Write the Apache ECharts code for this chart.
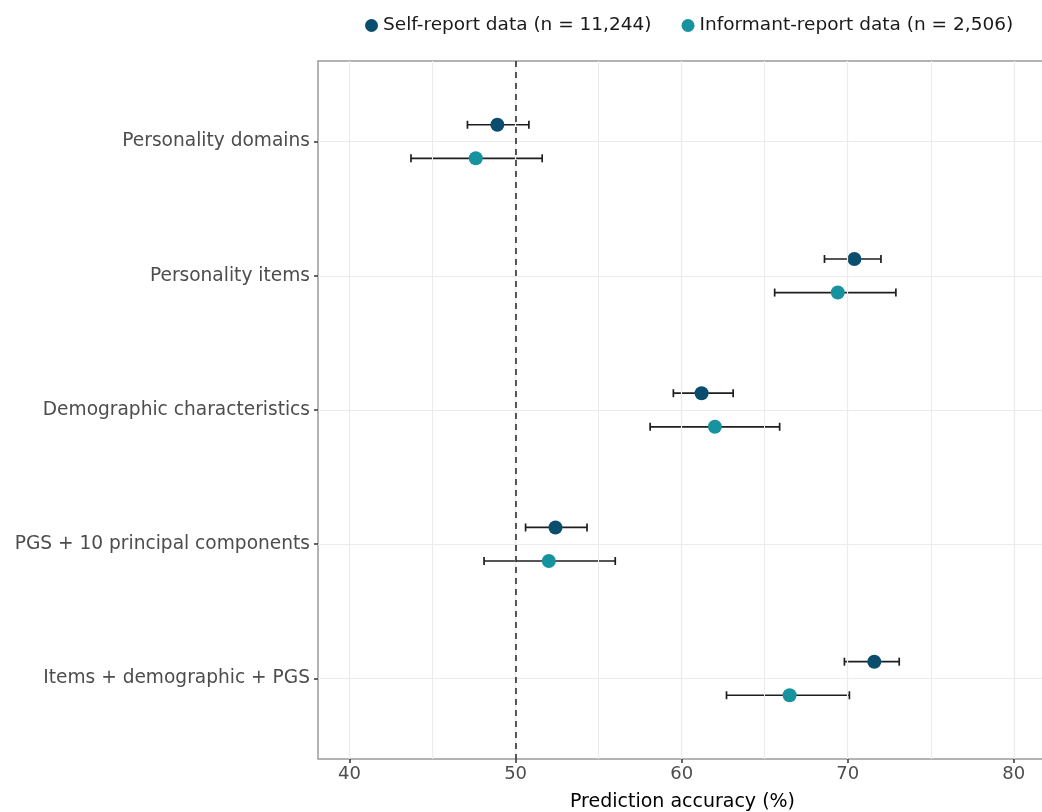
<!DOCTYPE html>
<html>
<head>
<meta charset="utf-8">
<script src="https://cdn.jsdelivr.net/npm/echarts@6/dist/echarts.min.js"></script>
<style>
  html, body { margin: 0; padding: 0; background: #fff; }
  #chart { width: 1042px; height: 812px; }
</style>
</head>
<body>
<div id="chart"></div>
<script>
// categories, top to bottom
const categories = [
  "Personality domains",
  "Personality items",
  "Demographic characteristics",
  "PGS + 10 principal components",
  "Items + demographic + PGS"
];
// self-report
const selfMean = [48.9, 70.4, 61.2, 52.4, 71.6];
const selfLow  = [47.1, 68.6, 59.5, 50.6, 69.8];
const selfHigh = [50.8, 72.0, 63.1, 54.3, 73.1];
// informant-report
const infMean = [47.6, 69.4, 62.0, 52.0, 66.5];
const infLow  = [43.7, 65.6, 58.1, 48.1, 62.7];
const infHigh = [51.6, 72.9, 65.9, 56.0, 70.1];

const xTicks = [40, 50, 60, 70, 80];
const xMinor = [45, 55, 65, 75];
const yTicks = [1, 2, 3, 4, 5];

const selfName = "Self-report data (n = 11,244)";
const infName = "Informant-report data (n = 2,506)";
const dodge = 0.125;
const FONT = "DejaVu Sans";

const selfPts = selfMean.map((v, i) => [v, i + 1 - dodge]);
const infPts = infMean.map((v, i) => [v, i + 1 + dodge]);
const bars = [];
categories.forEach((c, i) => {
  bars.push([selfLow[i], selfHigh[i], i + 1 - dodge]);
  bars.push([infLow[i], infHigh[i], i + 1 + dodge]);
});

function errorBar(params, api) {
  const a = api.coord([api.value(0), api.value(2)]);
  const b = api.coord([api.value(1), api.value(2)]);
  const st = { stroke: "#1e1e1e", lineWidth: 1.7 };
  const h = 4;
  return {
    type: "group",
    children: [
      { type: "line", shape: { x1: a[0], y1: a[1], x2: b[0], y2: b[1] }, style: st },
      { type: "line", shape: { x1: a[0], y1: a[1] - h, x2: a[0], y2: a[1] + h }, style: st },
      { type: "line", shape: { x1: b[0], y1: b[1] - h, x2: b[0], y2: b[1] + h }, style: st }
    ]
  };
}

function gridLines(vals, key, width) {
  return {
    silent: true,
    symbol: ["none", "none"],
    label: { show: false },
    animation: false,
    lineStyle: { color: "#ebebeb", width: width, type: "solid" },
    data: vals.map(v => ({ [key]: v }))
  };
}

const chart = echarts.init(document.getElementById("chart"));
chart.setOption({
  animation: false,
  textStyle: { fontFamily: FONT },
  legend: {
    data: [selfName, infName],
    top: 11,
    left: 360,
    icon: "circle",
    itemWidth: 13,
    itemHeight: 13,
    itemGap: 30,
    textStyle: { fontSize: 18.5, color: "#1a1a1a", fontFamily: FONT }
  },
  grid: {
    left: 318, right: -5, top: 61, bottom: 53,
    show: true, borderColor: "#9a9a9a", borderWidth: 1.5,
    containLabel: false,
    outerBoundsMode: "none"
  },
  xAxis: {
    type: "value",
    min: 38.1,
    max: 82,
    name: "Prediction accuracy (%)",
    nameLocation: "middle",
    nameGap: 34,
    nameTextStyle: { fontSize: 19, color: "#000", fontFamily: FONT },
    axisLine: { show: false },
    axisTick: { show: true, customValues: xTicks, length: 4, lineStyle: { color: "#333", width: 1.5 } },
    axisLabel: { customValues: xTicks, fontSize: 18, color: "#4d4d4d", margin: 6, fontFamily: FONT },
    splitLine: { show: false }
  },
  yAxis: {
    type: "value",
    inverse: true,
    min: 0.4,
    max: 5.6,
    axisLine: { show: false },
    axisTick: { show: true, customValues: yTicks, length: 4, lineStyle: { color: "#333", width: 1.5 } },
    axisLabel: {
      customValues: yTicks,
      fontSize: 18.6,
      color: "#4d4d4d",
      margin: 8,
      fontFamily: FONT,
      formatter: v => categories[Math.round(v) - 1]
    },
    splitLine: { show: false }
  },
  series: [
    {
      type: "line", name: "gridMajor", data: [[60, 3]], showSymbol: false, z: 0,
      lineStyle: { opacity: 0 },
      markLine: gridLines(xTicks, "xAxis", 1.2)
    },
    {
      type: "line", name: "gridMinor", data: [[60, 3]], showSymbol: false, z: 0,
      lineStyle: { opacity: 0 },
      markLine: gridLines(xMinor, "xAxis", 1)
    },
    {
      type: "line", name: "gridY", data: [[60, 3]], showSymbol: false, z: 0,
      lineStyle: { opacity: 0 },
      markLine: gridLines(yTicks, "yAxis", 1.2)
    },
    {
      type: "custom", name: "ci", renderItem: errorBar, data: bars, z: 2,
      encode: { x: [0, 1], y: 2 }, silent: true
    },
    {
      type: "line", name: "ref", data: [[60, 3]], showSymbol: false, z: 3,
      lineStyle: { opacity: 0 },
      markLine: {
        silent: true, symbol: ["none", "none"], label: { show: false },
        lineStyle: { color: "#222", width: 1.5, type: [6, 5] },
        data: [{ xAxis: 50 }]
      }
    },
    {
      type: "scatter", name: selfName, data: selfPts, symbolSize: 14, z: 4,
      itemStyle: { color: "#0b4d6c", opacity: 1 }
    },
    {
      type: "scatter", name: infName, data: infPts, symbolSize: 14, z: 4,
      itemStyle: { color: "#17929f", opacity: 1 }
    }
  ]
});
</script>
</body>
</html>
